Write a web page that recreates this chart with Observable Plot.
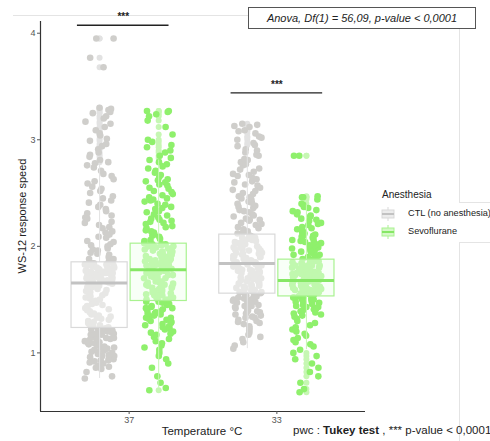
<!DOCTYPE html>
<html><head><meta charset="utf-8">
<script src="https://cdn.jsdelivr.net/npm/d3@7"></script>
<script src="https://cdn.jsdelivr.net/npm/@observablehq/plot@0.6"></script>
<style>
body{margin:0;background:#fff;font-family:"Liberation Sans",Arial,sans-serif;}
#wrap{position:relative;width:490px;height:441px;overflow:hidden;background:#fff;}
.abs{position:absolute;white-space:nowrap;color:#222;}
.fl{position:absolute;background:#e4e4e4;}
</style></head><body><div id="wrap"></div>
<script>
// ---- data ----
const temperatures = ["37", "33"];
const anesthesia = ["CTL (no anesthesia)", "Sevoflurane"];
const yTicks = [1, 2, 3, 4];

const ctl37 = [0.76,0.78,0.82,0.85,0.86,0.88,0.90,0.91,0.92,0.93,0.94,0.95,0.96,0.97,0.98,0.99,1.00,1.01,1.02,1.03,1.04,1.05,1.06,1.07,1.08,1.09,1.10,1.11,1.12,1.13,1.14,1.14,1.15,1.16,1.17,1.17,1.18,1.19,1.19,1.20,1.21,1.21,1.22,1.22,1.23,
 1.24,1.25,1.26,1.27,1.28,1.29,1.30,1.31,1.32,1.33,1.34,1.35,1.36,1.37,1.38,1.39,1.40,1.41,1.42,1.43,1.44,1.45,1.46,1.47,1.48,1.49,1.50,1.51,1.52,1.53,1.54,1.55,1.56,1.57,1.58,1.59,1.60,1.61,1.62,1.62,1.63,1.63,1.64,1.64,1.65,
 1.66,1.66,1.67,1.67,1.68,1.68,1.69,1.69,1.70,1.70,1.71,1.71,1.72,1.72,1.73,1.73,1.74,1.74,1.75,1.75,1.76,1.76,1.77,1.77,1.78,1.78,1.79,1.79,1.80,1.80,1.81,1.81,1.82,1.82,1.83,1.83,1.84,1.84,1.85,1.67,1.71,1.75,1.79,1.83,1.69,
 1.86,1.88,1.90,1.92,1.94,1.96,1.98,2.00,2.02,2.05,2.08,2.11,2.14,2.17,2.20,2.23,2.27,2.31,2.35,2.39,2.43,2.47,2.52,2.56,2.61,2.66,2.71,2.76,2.81,2.86,2.91,2.96,3.01,3.06,3.12,3.17,3.22,3.26,3.28,3.30,3.68,3.77,3.95,3.95,2.78,
 2.04,2.09,2.13,2.18,2.22,2.26,2.29,2.33,2.37,2.41,2.45,2.50,2.54,2.59,2.63,2.68,2.74,2.79,2.84,2.88,2.94,2.99,3.04,3.09,3.15,3.20,3.25,3.29,1.88,1.93,1.97,2.01,
 0.87,0.93,0.97,1.01,1.05,1.09,1.13,1.18];
const sevo37 = [0.65,0.67,0.72,0.78,0.86,0.90,0.94,0.97,1.00,1.03,1.05,1.07,1.09,1.11,1.13,1.15,1.17,1.19,1.20,1.22,1.23,1.25,1.26,1.27,1.29,1.30,1.31,1.32,1.33,1.34,1.35,1.36,1.37,1.38,1.39,1.40,1.41,1.42,1.43,1.44,1.45,1.46,1.47,1.48,1.48,
 1.49,1.50,1.50,1.51,1.52,1.52,1.53,1.54,1.55,1.55,1.56,1.57,1.58,1.58,1.59,1.60,1.61,1.61,1.62,1.63,1.64,1.64,1.65,1.66,1.67,1.67,1.68,1.69,1.70,1.70,1.71,1.72,1.73,1.73,1.74,1.75,1.76,1.76,1.77,1.77,1.54,1.60,1.66,1.72,1.63,
 1.78,1.79,1.79,1.80,1.81,1.81,1.82,1.83,1.83,1.84,1.85,1.86,1.86,1.87,1.88,1.88,1.89,1.90,1.91,1.91,1.92,1.93,1.93,1.94,1.95,1.95,1.96,1.97,1.98,1.98,1.99,2.00,2.00,2.01,2.02,2.02,1.85,1.90,1.96,2.01,1.82,1.87,1.94,1.99,2.02,
 2.03,2.05,2.07,2.09,2.11,2.13,2.15,2.17,2.19,2.21,2.23,2.25,2.27,2.30,2.32,2.35,2.37,2.40,2.43,2.46,2.49,2.52,2.55,2.58,2.61,2.65,2.69,2.73,2.77,2.81,2.85,2.90,2.95,3.00,3.05,3.12,3.18,3.22,3.24,3.26,3.27,3.27,2.24,2.44,2.62,
 2.06,2.10,2.14,2.18,2.22,2.26,2.29,2.33,2.36,2.39,2.42,2.45,2.48,2.51,2.54,2.57,2.60,2.63,2.67,2.71,2.75,2.79,2.83,2.88,2.93,2.98,1.18,1.24,1.28,1.33,1.37,1.42];
const ctl33 = [1.04,1.07,1.10,1.13,1.15,1.17,1.19,1.21,1.23,1.25,1.27,1.28,1.30,1.31,1.33,1.34,1.35,1.37,1.38,1.39,1.40,1.41,1.42,1.43,1.44,1.45,1.46,1.47,1.47,1.48,1.49,1.50,1.50,1.51,1.52,1.52,1.53,1.53,1.54,1.54,1.55,1.55,1.36,1.43,1.49,
 1.56,1.57,1.57,1.58,1.59,1.59,1.60,1.61,1.61,1.62,1.63,1.63,1.64,1.65,1.65,1.66,1.67,1.67,1.68,1.69,1.69,1.70,1.71,1.71,1.72,1.73,1.73,1.74,1.75,1.75,1.76,1.77,1.77,1.78,1.79,1.79,1.80,1.81,1.81,1.82,1.83,1.83,1.62,1.70,1.78,
 1.84,1.85,1.85,1.86,1.87,1.87,1.88,1.89,1.90,1.90,1.91,1.92,1.93,1.93,1.94,1.95,1.96,1.96,1.97,1.98,1.99,1.99,2.00,2.01,2.02,2.02,2.03,2.04,2.05,2.05,2.06,2.07,2.08,2.08,2.09,2.10,2.10,1.88,1.94,2.00,2.06,1.91,1.97,2.03,2.09,
 2.12,2.14,2.16,2.18,2.20,2.22,2.24,2.26,2.28,2.30,2.32,2.34,2.36,2.38,2.40,2.42,2.44,2.47,2.50,2.52,2.55,2.58,2.61,2.64,2.67,2.70,2.73,2.76,2.79,2.82,2.85,2.88,2.91,2.94,2.97,3.00,3.03,3.06,3.09,3.12,3.14,3.15,2.25,2.46,2.66,
 2.13,2.17,2.21,2.25,2.29,2.33,2.37,2.41,2.45,2.49,2.53,2.57,2.60,2.63,2.68,2.72,2.77,2.81,2.86,2.90,2.95,3.02,3.08,3.13,1.29,1.33,1.39,1.44,1.48];
const sevo33 = [0.63,0.66,0.72,0.78,0.82,0.86,0.90,0.94,0.97,1.00,1.03,1.06,1.08,1.10,1.12,1.14,1.16,1.18,1.20,1.22,1.24,1.26,1.28,1.30,1.32,1.34,1.36,1.37,1.38,1.40,1.41,1.42,1.43,1.44,1.45,1.46,1.47,1.48,1.49,1.50,1.50,1.51,1.52,1.52,1.53,
 1.53,1.54,1.54,1.55,1.55,1.56,1.56,1.57,1.57,1.58,1.58,1.59,1.59,1.60,1.60,1.61,1.61,1.62,1.62,1.63,1.63,1.64,1.64,1.65,1.65,1.66,1.66,1.67,1.67,1.68,1.54,1.56,1.58,1.60,1.62,1.64,1.66,1.55,1.59,1.63,1.67,1.57,1.61,1.65,1.68,
 1.69,1.69,1.70,1.70,1.71,1.71,1.72,1.72,1.73,1.73,1.74,1.74,1.75,1.75,1.76,1.76,1.77,1.77,1.78,1.78,1.79,1.79,1.80,1.80,1.81,1.81,1.82,1.82,1.83,1.83,1.84,1.84,1.85,1.85,1.86,1.86,1.87,1.87,1.70,1.74,1.78,1.82,1.86,1.72,1.80,
 1.88,1.89,1.90,1.91,1.92,1.93,1.94,1.95,1.96,1.97,1.98,1.99,2.00,2.01,2.02,2.03,2.04,2.05,2.06,2.07,2.08,2.09,2.10,2.11,2.12,2.14,2.16,2.18,2.20,2.22,2.24,2.26,2.28,2.30,2.32,2.34,2.36,2.39,2.40,2.44,2.46,2.46,2.47,2.85,2.85,
 1.89,1.92,1.95,1.98,2.01,2.04,2.07,2.10,2.13,2.17,2.21,2.25,2.29,2.33,2.37,1.35,1.39,1.43,1.47,1.50];

// box statistics, order: CTL 37, Sevo 37, CTL 33, Sevo 33
const boxTemp   = [0, 0, 1, 1];
const boxGroup  = [0, 1, 0, 1];
const q1s       = [1.234, 1.487, 1.556, 1.530];
const medians   = [1.656, 1.780, 1.838, 1.680];
const q3s       = [1.850, 2.025, 2.110, 1.875];
const whiskLow  = [0.76, 0.67, 1.04, 1.03];
const whiskHigh = [2.78, 2.81, 2.94, 2.39];

// significance annotations
const sigLabels = ["***", "***"];
const sigX1 = [0.65, 1.69];
const sigX2 = [1.27, 2.31];
const sigY  = [4.075, 3.44];

// ---- build ----
const seriesList = [ctl37, sevo37, ctl33, sevo33];
const dodge = 0.2, halfBox = 0.19, jitterW = 0.1;
const center = (t, g) => t + 1 + (g ? dodge : -dodge);
const pointFill = ["#cfcecb", "#8ff06c"];
const lightFill = ["#e2e2e2", "#c6f7b3"];
const boxStroke = ["#d9d9d9", "#a9f290"];
const medStroke = ["#c2c2c2", "#86e765"];
const boxFill   = ["#ffffff", "#f2fff0"];
// deterministic jitter offset in [-0.5, 0.5)
const jitter = (i, k) => { const s = Math.sin(i * 12.9898 + k * 78.233) * 43758.5453; return s - Math.floor(s) - 0.5; };

const boxes = q1s.map((q, i) => ({
  t: boxTemp[i], g: boxGroup[i], cx: center(boxTemp[i], boxGroup[i]),
  q1: q, med: medians[i], q3: q3s[i], lo: whiskLow[i], hi: whiskHigh[i]
}));
const points = [], outliers = [];
boxes.forEach((b, k) => {
  seriesList[k].forEach((v, i) => {
    points.push({x: b.cx + jitter(i, k) * 2 * jitterW, y: v, g: b.g});
    if (v > b.hi || v < b.lo) outliers.push({x: b.cx, y: v, g: b.g});
  });
});
const sig = sigLabels.map((s, i) => ({label: s, x1: sigX1[i], x2: sigX2[i], y: sigY[i]}));

const chart = Plot.plot({
  width: 490, height: 441,
  marginLeft: 40, marginRight: 125, marginTop: 21, marginBottom: 30,
  style: {fontFamily: "Liberation Sans, Arial, sans-serif", background: "transparent"},
  x: {domain: [0.4, 2.6], axis: null},
  y: {domain: [0.45, 4.11], axis: null},
  marks: [
    Plot.dot(outliers, {x: "x", y: "y", r: 3, fill: d => lightFill[d.g], stroke: "none"}),
    Plot.dot(points, {x: "x", y: "y", r: 3.3, fill: d => pointFill[d.g], stroke: "none"}),
    Plot.ruleX(boxes, {x: "cx", y1: "lo", y2: "q1", stroke: d => lightFill[d.g], strokeWidth: 1}),
    Plot.ruleX(boxes, {x: "cx", y1: "q3", y2: "hi", stroke: d => lightFill[d.g], strokeWidth: 1}),
    Plot.rect(boxes, {x1: d => d.cx - halfBox, x2: d => d.cx + halfBox, y1: "q1", y2: "q3",
      fill: d => boxFill[d.g], fillOpacity: 0.5, stroke: d => boxStroke[d.g], strokeWidth: 1.2}),
    Plot.ruleY(boxes, {y: "med", x1: d => d.cx - halfBox, x2: d => d.cx + halfBox,
      stroke: d => medStroke[d.g], strokeWidth: 3}),
    Plot.ruleX([0.4], {y1: 0.45, y2: 4.11, stroke: "#333", strokeWidth: 1.2}),
    Plot.ruleY([0.45], {x1: 0.4, x2: 2.6, stroke: "#333", strokeWidth: 1.2}),
    Plot.axisY({ticks: yTicks, tickFormat: d => String(d), tickSize: 3, tickPadding: 2, fontSize: 9, label: null, color: "#555"}),
    Plot.axisX({ticks: [1, 2], tickFormat: d => temperatures[d - 1], tickSize: 3, tickPadding: 2, fontSize: 9, label: null, color: "#555"}),
    Plot.ruleY(sig, {y: "y", x1: "x1", x2: "x2", stroke: "#222", strokeWidth: 1.4}),
    Plot.text(sig, {x: d => (d.x1 + d.x2) / 2, y: "y", text: "label", lineAnchor: "bottom", dy: -5, fontSize: 10, fontWeight: "bold", fill: "#222"})
  ]
});
chart.style.position = "absolute";
chart.style.left = "0px";
chart.style.top = "0px";

const wrap = document.getElementById("wrap");
// faint frame lines present in the reference
[["left:13px;top:15px;width:235px;height:1px"],
 ["left:459px;top:28px;width:1px;height:174px"],
 ["left:459px;top:202px;width:31px;height:1px"],
 ["left:459px;top:242px;width:31px;height:1px"],
 ["left:459px;top:242px;width:1px;height:199px"]].forEach(([s]) => {
  const d = document.createElement("div"); d.className = "fl"; d.style.cssText = s; wrap.appendChild(d);
});
wrap.appendChild(chart);

function add(html, css) {
  const d = document.createElement("div"); d.className = "abs"; d.style.cssText = css; d.innerHTML = html; wrap.appendChild(d); return d;
}
// title box
add("Anova, Df(1) = 56,09, p-value &lt; 0,0001",
  "left:248px;top:7px;width:226px;height:20px;border:1px solid #555;font-style:italic;font-size:11px;line-height:20px;text-align:center;");
// y label
add("WS-12 response speed",
  "left:22px;top:216px;font-size:11px;transform:translate(-50%,-50%) rotate(-90deg);");
// x label
add("Temperature °C", "left:202px;top:431px;font-size:11.5px;transform:translate(-50%,-50%);");
// caption
add("pwc : <b>Tukey test</b> , *** p-value &lt; 0,0001", "left:293px;top:424px;font-size:11.5px;");
// legend
add("Anesthesia", "left:382px;top:189px;font-size:10px;");
function glyph(g) {
  return `<svg width="14" height="14" style="vertical-align:middle"><line x1="7" x2="7" y1="0" y2="14" stroke="${boxStroke[g]}"/><rect x="1" y="3" width="12" height="8" fill="${g ? '#d4f9c6' : '#ececec'}" stroke="${boxStroke[g]}"/><line x1="1" x2="13" y1="7" y2="7" stroke="${medStroke[g]}" stroke-width="2"/></svg>`;
}
anesthesia.forEach((name, g) => {
  add(glyph(g), `left:381px;top:${207 + g * 18}px;line-height:0;`);
  add(name, `left:408px;top:${208 + g * 18}px;font-size:9.2px;`);
});
</script></body></html>
